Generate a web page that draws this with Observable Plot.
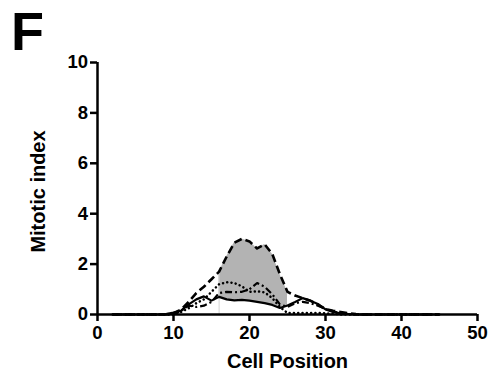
<!DOCTYPE html>
<html>
<head>
<meta charset="utf-8">
<script src="https://cdn.jsdelivr.net/npm/d3@7"></script>
<script src="https://cdn.jsdelivr.net/npm/@observablehq/plot@0.6"></script>
<style>
  html, body { margin: 0; padding: 0; background: #fff; }
  #wrap { position: relative; width: 491px; height: 372px; }
  #panel { position: absolute; left: 11px; top: 0px; font: bold 54px "Liberation Sans", Arial, sans-serif; line-height: normal; color: #000; }
</style>
</head>
<body>
<div id="wrap"><div id="panel">F</div></div>
<script>
const positions = [2,3,4,5,6,7,8,9,10,11,12,13,14,15,16,17,18,19,20,21,22,23,24,25,26,27,28,29,30,31,32,33,34,35,36,37,38,39,40,41,42,43,44,45];
const solid   = [0,0,0,0,0,0,0,0.02,0.08,0.15,0.4,0.6,0.72,0.55,0.7,0.6,0.56,0.58,0.55,0.5,0.45,0.38,0.26,0.36,0.5,0.65,0.55,0.42,0.2,0.1,0.05,0.02,0,0,0,0,0,0,0,0,0,0,0,0];
const dashed  = [0,0,0,0,0,0,0,0,0.05,0.2,0.5,0.85,1.1,1.4,1.7,2.3,2.85,3.0,2.9,2.62,2.78,2.4,1.6,0.9,0.75,0.65,0.55,0.38,0.22,0.15,0.1,0.05,0.02,0,0,0,0,0,0,0,0,0,0,0];
const dotted  = [0,0,0,0,0,0,0,0,0,0.1,0.25,0.45,0.6,0.9,1.2,1.28,1.25,1.12,0.9,0.92,0.88,0.65,0.3,0.06,0.06,0.06,0.06,0.06,0.05,0.03,0,0,0,0,0,0,0,0,0,0,0,0,0,0];
const dashdot = [0,0,0,0,0,0,0,0,0,0.15,0.35,0.3,0.35,0.5,0.85,0.9,0.88,0.9,1.0,1.25,1.1,0.8,0.4,0.3,0.45,0.5,0.45,0.35,0.22,0.12,0.06,0.02,0,0,0,0,0,0,0,0,0,0,0,0];
const shadeRange = [16, 25];
const xTicks = [0,10,20,30,40,50];
const yTicks = [0,2,4,6,8,10];
const xLabel = "Cell Position";
const yLabel = "Mitotic index";

const rows = positions.map((p, i) => ({x: p, solid: solid[i], dashed: dashed[i], dotted: dotted[i], dashdot: dashdot[i]}));
const shaded = rows.filter(d => d.x >= shadeRange[0] && d.x <= shadeRange[1]);

const font = '"Liberation Sans", Arial, sans-serif';
const lw = 2.2;
const tickFont = 18.5;

const chart = Plot.plot({
  width: 491,
  height: 372,
  marginLeft: 97,
  marginRight: 14,
  marginTop: 62,
  marginBottom: 58,
  x: {domain: [0, 50]},
  y: {domain: [0, 10]},
  style: {fontFamily: font, fontWeight: "bold", color: "#000", background: "#fff"},
  marks: [
    Plot.areaY(shaded, {x: "x", y1: "solid", y2: "dashed", fill: "#b3b3b3", fillOpacity: 1}),
    Plot.ruleX(shaded.slice(0, 1), {x: "x", y1: 0, y2: "dashed", stroke: "#d4d4d4", strokeWidth: 1}),
    Plot.lineY(rows, {x: "x", y: "solid", stroke: "#000", strokeWidth: lw}),
    Plot.lineY(rows, {x: "x", y: "dashed", stroke: "#000", strokeWidth: lw + 0.4, strokeDasharray: "8,4", strokeLinecap: "butt"}),
    Plot.lineY(rows, {x: "x", y: "dotted", stroke: "#000", strokeWidth: lw + 0.3, strokeDasharray: "0.1,4.2", strokeLinecap: "round"}),
    Plot.lineY(rows, {x: "x", y: "dashdot", stroke: "#000", strokeWidth: lw, strokeDasharray: "7,3,2,3", strokeLinecap: "butt"}),
    Plot.ruleX([0], {y1: 0, y2: 10, stroke: "#000", strokeWidth: 2.5}),
    Plot.ruleY([0], {x1: 0, x2: 50, stroke: "#000", strokeWidth: 2.5}),
    Plot.axisX({ticks: xTicks, tickSize: 7, strokeWidth: 2.5, tickFormat: () => "", label: null}),
    Plot.axisY({ticks: yTicks, tickSize: 7, strokeWidth: 2.5, tickFormat: () => "", label: null}),
    Plot.text(xTicks, {x: d => d, text: d => String(d), frameAnchor: "bottom", lineAnchor: "middle", textAnchor: "middle", dy: 18.5, fontSize: tickFont, fontWeight: "bold"}),
    Plot.text(yTicks, {y: d => d, text: d => String(d), frameAnchor: "left", lineAnchor: "middle", textAnchor: "end", dx: -9.5, fontSize: tickFont, fontWeight: "bold"}),
    Plot.text([xLabel], {text: d => d, frameAnchor: "bottom", lineAnchor: "middle", textAnchor: "middle", dy: 47.5, fontSize: 20, fontWeight: "bold"}),
    Plot.text([yLabel], {text: d => d, frameAnchor: "left", lineAnchor: "middle", textAnchor: "middle", rotate: -90, dx: -59, dy: 3, fontSize: 20, fontWeight: "bold"})
  ]
});
document.getElementById("wrap").appendChild(chart);
</script>
</body>
</html>
